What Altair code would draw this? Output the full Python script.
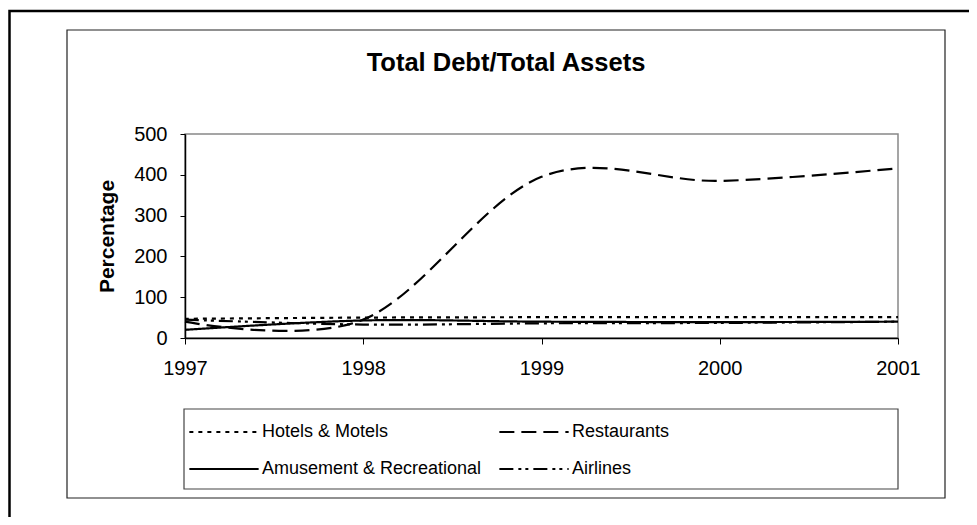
import altair as alt
import pandas as pd

years = [1997, 1998, 1999, 2000, 2001]
series_names = ["Hotels & Motels", "Restaurants", "Amusement & Recreational", "Airlines"]
hotels = [47, 50, 51, 51, 51]
restaurants = [40, 45, 395, 385, 416]
amusement = [20, 43, 40, 39, 40]
airlines = [45, 33, 36, 37, 40]
y_ticks = [0, 100, 200, 300, 400, 500]
title_text = "Total Debt/Total Assets"
y_title = "Percentage"

FONT = "Liberation Sans"
W, H = 713, 204

rows = []
for name, vals in zip(series_names, [hotels, restaurants, amusement, airlines]):
    for yr, v in zip(years, vals):
        rows.append({"Year": yr, "Value": v, "Series": name})
df = pd.DataFrame(rows)

# legend fills column by column: order so that rows read Hotels | Restaurants, Amusement | Airlines
legend_order = ["Hotels & Motels", "Amusement & Recreational", "Restaurants", "Airlines"]
dash_map = {
    "Hotels & Motels": [4, 5],
    "Restaurants": [15, 7],
    "Amusement & Recreational": [1, 0],
    "Airlines": [14, 5, 3, 4, 3, 5],
}
dashes = [dash_map[n] for n in legend_order]

lines = alt.Chart(df).mark_line(interpolate="cardinal", color="black", strokeWidth=2.2).encode(
    x=alt.X("Year:Q", scale=alt.Scale(domain=[1997, 2001], nice=False, zero=False),
            axis=alt.Axis(values=years, format="d", title=None, grid=False,
                          labelFontSize=20, labelFont=FONT, labelColor="black",
                          tickSize=6, tickColor="black", domainColor="black",
                          domainWidth=1.5, labelPadding=14, labelFlush=False)),
    y=alt.Y("Value:Q", scale=alt.Scale(domain=[0, 500], nice=False),
            axis=alt.Axis(values=y_ticks, title=y_title, grid=False,
                          labelFontSize=20, labelFont=FONT, labelColor="black",
                          tickSize=5, tickColor="black", domainColor="black",
                          domainWidth=1.5, labelPadding=13,
                          titleFont=FONT, titleFontSize=21, titleFontWeight="bold",
                          titleColor="black", titlePadding=16)),
    strokeDash=alt.StrokeDash("Series:N",
                              scale=alt.Scale(domain=legend_order, range=dashes),
                              legend=alt.Legend(orient="none", legendX=29, legendY=288,
                                                columns=2, title=None,
                                                symbolType="M-4,0H4",
                                                symbolSize=300, symbolStrokeWidth=2,
                                                symbolStrokeColor="black",
                                                labelFont=FONT, labelFontSize=18,
                                                labelColor="black", columnPadding=13,
                                                rowPadding=18, labelOffset=28,
                                                labelLimit=400)),
)

one = pd.DataFrame({"t": [title_text]})

title = alt.Chart(one).mark_text(font=FONT, fontSize=25.5, fontWeight="bold",
                                 color="black", baseline="alphabetic", align="center").encode(
    x=alt.value(321), y=alt.value(-63), text="t:N")

outer = alt.Chart(one).mark_rect(fill=None, stroke="black", strokeWidth=2.5).encode(
    x=alt.value(-175.5), x2=alt.value(1000), y=alt.value(-123), y2=alt.value(600))
inner = alt.Chart(one).mark_rect(fill=None, stroke="#222", strokeWidth=1.2).encode(
    x=alt.value(-118), x2=alt.value(760), y=alt.value(-104), y2=alt.value(364))
legbox = alt.Chart(one).mark_rect(fill=None, stroke="#444", strokeWidth=1.2).encode(
    x=alt.value(-1), x2=alt.value(713), y=alt.value(275), y2=alt.value(355))

chart = alt.layer(outer, inner, legbox, lines, title).properties(
    width=W, height=H,
    autosize=alt.AutoSizeParams(type="none"),
    padding={"left": 177, "top": 126, "right": 71, "bottom": 179},
    background="white",
).configure_view(stroke="#888", strokeWidth=1.5)

chart.save("out.html", embed_options={"renderer": "svg", "actions": False})
